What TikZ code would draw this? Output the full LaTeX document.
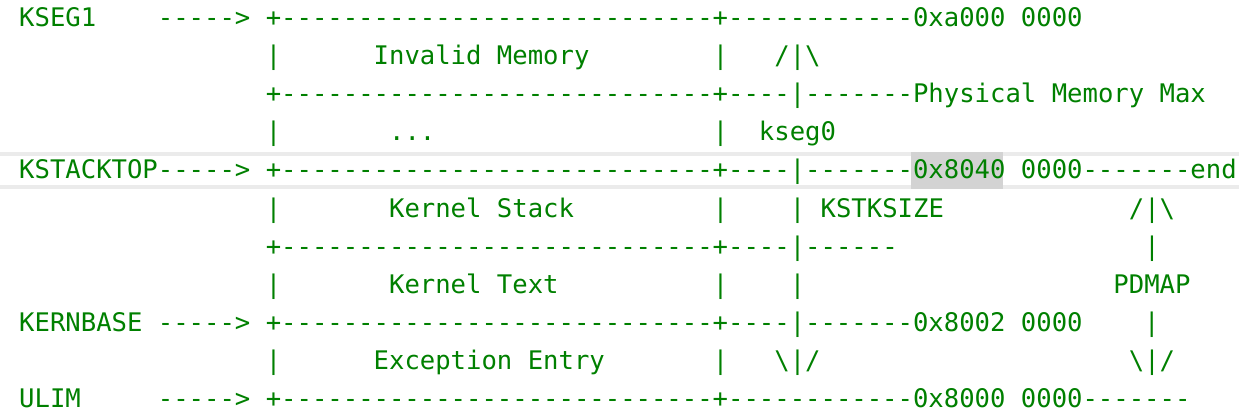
\documentclass[tikz,border=0pt]{standalone}
\usepackage{fontspec}
\setmonofont{DejaVu Sans Mono}
\definecolor{codegreen}{HTML}{008000}
\definecolor{linehl}{HTML}{EBEBEB}
\definecolor{selhl}{HTML}{D3D3D3}
\tikzset{
    asc/.style={anchor=base west, inner sep=0pt, text=codegreen,
        font=\ttfamily\fontsize{25.6}{38}\selectfont}
}
\begin{document}
\begin{tikzpicture}[x=1pt,y=1pt]
        \useasboundingbox (0,0) rectangle (1239,413);

        % current line and selection
        \fill[linehl] (0,257) rectangle (1239,261);
        \fill[linehl] (0,224) rectangle (1239,228);
        \fill[selhl] (911,224) rectangle (1003,261);

        \node[asc] (kseg1) at (19,386) {KSEG1~~~~-----> +----------------------------+------------0xa000 0000};
        \node[asc] (invalid) at (19,348) {~~~~~~~~~~~~~~~~|~~~~~~Invalid Memory~~~~~~~~|~~~/|\textbackslash};
        \node[asc] (physmax) at (19,310) {~~~~~~~~~~~~~~~~+----------------------------+----|-------Physical Memory Max};
        \node[asc] (dots) at (19,272) {~~~~~~~~~~~~~~~~|~~~~~~~...~~~~~~~~~~~~~~~~~~|~~kseg0};
        \node[asc] (kstacktop) at (19,234) {KSTACKTOP-----> +----------------------------+----|-------0x8040 0000-------end};
        \node[asc] (kstack) at (19,196) {~~~~~~~~~~~~~~~~|~~~~~~~Kernel Stack~~~~~~~~~|~~~~|~KSTKSIZE~~~~~~~~~~~~/|\textbackslash};
        \node[asc] (stacksep) at (19,158) {~~~~~~~~~~~~~~~~+----------------------------+----|------~~~~~~~~~~~~~~~~|};
        \node[asc] (ktext) at (19,120) {~~~~~~~~~~~~~~~~|~~~~~~~Kernel Text~~~~~~~~~~|~~~~|~~~~~~~~~~~~~~~~~~~~PDMAP};
        \node[asc] (kernbase) at (19,82) {KERNBASE -----> +----------------------------+----|-------0x8002 0000~~~~|};
        \node[asc] (exception) at (19,44) {~~~~~~~~~~~~~~~~|~~~~~~Exception Entry~~~~~~~|~~~\textbackslash|/~~~~~~~~~~~~~~~~~~~~\textbackslash|/};
        \node[asc] (ulim) at (19,6) {ULIM~~~~~-----> +----------------------------+------------0x8000 0000-------};
\end{tikzpicture}
\end{document}
